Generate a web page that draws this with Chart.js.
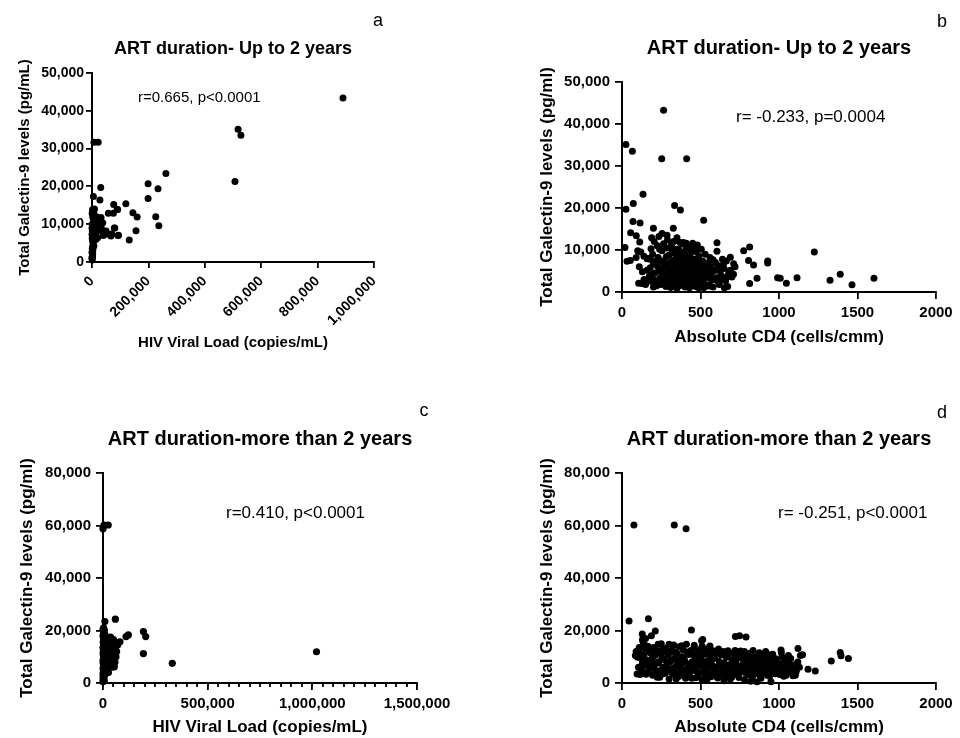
<!DOCTYPE html>
<html>
<head>
<meta charset="utf-8">
<script src="https://cdn.jsdelivr.net/npm/chart.js@4.4.1/dist/chart.umd.min.js"></script>
<style>
  body { margin: 0; background: #fff; width: 960px; height: 738px; position: relative; overflow: hidden; }
  canvas { position: absolute; }
</style>
</head>
<body>
<canvas id="panelA" width="480" height="369" style="left:0;top:0"></canvas>
<canvas id="panelB" width="480" height="369" style="left:480px;top:0"></canvas>
<canvas id="panelC" width="480" height="369" style="left:0;top:369px"></canvas>
<canvas id="panelD" width="480" height="369" style="left:480px;top:369px"></canvas>
<script>
// values: [x, galectin-9 pg/mL]
const aViralLoad = [
  [890000,43400],[518000,35100],[528000,33500],[507000,21300],[262000,23400],[199000,20700],[199000,16800],
  [234000,19400],[226000,12000],[237000,9600],[120000,15400],[145000,13000],[160000,11900],[156000,8300],
  [132000,5800],[92000,7000],[89000,13900],[77000,15200],[76000,12900],[58000,12900],[31000,19700],
  [28000,16400],[5000,17300],[7000,31700],[22000,31700],[81000,9000],[70000,7400],[55000,7400],[40000,7000],
  [38000,10400],[28000,11200],[33000,9000],[14000,6000],[9000,14000],[3000,13400],[32000,11800],[37000,8200],
  [26000,9500],[14000,10900],[12000,9000],[20000,6400],[5000,5500],[3000,3800],[500,2500],[0,1200],[0,7300],
  [0,9000],[9000,11300],[50000,8200],[67000,6900],[79000,9000],[94000,7100],[91000,13900],
  [1000,500],[2000,1500],[500,2500],[3000,3200],[1500,4000],[4000,4800],[2500,5500],[800,6200],[5000,6800],
  [3500,7500],[1200,8200],[6000,8800],[2000,9500],[9000,9800],[4500,10400],[12000,10200],[7000,11000],
  [15000,11300],[3000,11800],[10000,12200],[500,12800],[6000,13300],[2000,13900],[8000,7200],[11000,8600],
  [18000,9300],[20000,10800],[16000,12000],[25000,9800],[22000,11500],[1000,3500],[300,1000],[2500,2200],
  [6500,4200],[9500,5900],[13000,7800],[17000,8100],[4000,9000],[700,10000],[3500,12300]
];
const bCD4 = [
  [265,43300],[25,35100],[66,33500],[253,31700],[412,31700],[134,23300],[72,21100],[25,19700],[335,20600],
  [372,19500],[520,17100],[70,16800],[115,16400],[200,15200],[327,15200],[55,14100],[91,13400],[255,13900],
  [287,13500],[350,12900],[189,12900],[113,11900],[605,11700],[391,11800],[19,10600],[813,10700],[775,9800],
  [1225,9500],[928,7400],[928,6900],[806,7500],[838,6400],[991,3400],[1008,3300],[1047,2100],[1115,3400],
  [1325,2800],[1390,4200],[1465,1700],[1605,3300],[813,2000],[860,3300],[665,7400],[690,8300],[711,6700],
  [673,1300],[652,1000],[488,1000],[32,7300],[53,7500],[106,2100],[127,2000],
  [160,5200],[175,3800],[190,2500],[200,6800],[210,4500],[220,1500],[230,8200],[240,3200],[250,5800],
  [255,9800],[260,2200],[270,7000],[275,4200],[280,1300],[285,10500],[290,6100],[295,3000],[300,8800],
  [305,5000],[310,1800],[315,11200],[320,7400],[325,3900],[330,2600],[335,9300],[340,5500],[345,1200],
  [350,6800],[355,4300],[360,10200],[365,2900],[370,8000],[375,5200],[380,1600],[385,11500],[390,6300],
  [395,3500],[400,9100],[405,7200],[410,4800],[415,2200],[420,10800],[425,5900],[430,3300],[435,8400],
  [440,1500],[445,6600],[450,11000],[455,4000],[460,7800],[465,2600],[470,9600],[475,5300],[480,3100],
  [490,8600],[495,6100],[500,1900],[505,10200],[510,4400],[515,7300],[520,2800],[530,9000],[535,5400],
  [540,3700],[550,6900],[555,1700],[560,8200],[570,4600],[575,2900],[580,7700],[590,5100],[600,3400],
  [605,9700],[610,6300],[620,1800],[630,4000],[640,7800],[650,5600],[660,2700],[680,4500],[700,3600],
  [720,6000],[250,3600],[270,1800],[300,4600],[320,2000],[340,6300],[360,3700],[380,7600],[400,2500],
  [420,6500],[440,4200],[460,2000],[480,6800],[500,4700],[520,5900],[540,1400],[560,3300],[580,1200],
  [240,10200],[265,11500],[290,12400],[330,12000],[370,11800],[410,11600],[450,11600],[480,11200],
  [170,8000],[185,10300],[205,12000],[215,7300],[150,1800],[170,2800],[195,9000],[225,11000],[235,13200],
  [180,7800],[160,7900],[140,8500],[120,9500],[100,9800],[90,8200],[110,6000],[130,4800],[140,3000],
  [200,1200],[310,1100],[350,900],[430,1000],[470,1300],[520,1000],[560,1400],[610,2600],[640,3000],
  [690,5200],[710,4200],[670,3700],
  [160,3000],[180,5800],[195,4200],[210,2800],[225,6200],[235,5000],[245,1800],[255,7400],[262,4600],
  [268,3000],[278,6000],[282,8400],[292,1600],[298,5600],[302,3800],[308,7000],[312,2600],[318,5400],
  [322,9800],[328,1500],[332,4400],[338,7800],[342,3000],[348,10200],[352,5800],[358,1400],[362,8600],
  [368,4600],[372,6200],[378,2400],[382,9400],[388,3800],[392,7600],[398,5200],[402,1200],[408,10400],
  [412,3000],[418,8000],[422,4200],[428,6800],[432,2000],[438,9800],[442,5600],[448,3200],[452,7400],
  [458,1800],[462,10000],[468,4800],[472,6400],[478,2400],[485,8000],[492,3600],[498,5000],[510,6600],
  [525,3800],[545,5200],[565,6000],[585,3000],[595,7000],[625,5000],[645,6500]
];
const cViralLoad = [
  [0,58800],[5000,60200],[25000,60200],[1020000,11900],[331000,7500],[193000,19600],[204000,17700],
  [193000,11200],[121000,18300],[110000,17700],[59000,24300],[9000,23400],[81000,15700],[57000,13800],
  [41000,16100],[54000,6200],[57000,7900],[5000,20200],[40000,16400],[46000,6400],[54000,8800],
  [0,500],[500,1500],[1000,2500],[0,3500],[2000,4500],[500,5500],[3000,6500],[1000,7500],[0,8500],
  [4000,9500],[1500,10500],[500,11500],[2500,12500],[0,13500],[5000,14500],[1000,15500],[3000,16500],
  [0,18000],[2000,19500],[500,20500],[8000,3000],[10000,5000],[12000,7000],[15000,9000],[18000,11000],
  [20000,13000],[9000,15000],[14000,17000],[22000,16000],[25000,12000],[28000,10000],[30000,8000],
  [32000,14000],[35000,12500],[38000,10500],[40000,15000],[45000,13000],[48000,11000],[50000,16500],
  [6000,1000],[7000,6000],[16000,4000],[24000,6000],[26000,4000],[34000,7500],[42000,9000],[55000,14500],
  [60000,13500],[65000,12000],[70000,14500],[75000,15500],[4000,12000],[11000,12500],[17000,14000],
  [13000,10500],[19000,8500],[21000,7000],[27000,14500],[31000,16500],[36000,17500],[3000,21000],
  [6000,20000],[9000,18500],[44000,6000],[47000,7000],[52000,9500],[58000,11000],[62000,10000]
];
const dCD4 = [
  [76,60200],[333,60200],[408,58800],[45,23600],[168,24500],[442,20200],[212,19800],[129,18700],[187,18000],
  [514,16600],[507,16100],[722,17700],[749,18000],[1185,5200],[1231,4600],[1333,8400],[1390,11600],
  [1395,10400],[1442,9300],[1121,13100],[1136,10500],[1089,2800],[1104,3000],[1013,12600],[949,500],
  [860,500],[96,3400],[153,3300],
  [90,12000],[100,9800],[110,13500],[120,11000],[130,7500],[135,15500],[140,10200],[150,12800],[160,8600],
  [165,14000],[170,5500],[180,11500],[190,9200],[195,3000],[200,13500],[210,7000],[215,10800],[220,4500],
  [230,12200],[235,8100],[240,2200],[250,15000],[255,9500],[260,6000],[270,11800],[275,3800],[280,13200],
  [290,7800],[295,10500],[300,1500],[305,5200],[310,12000],[320,8800],[325,14200],[330,3200],[340,9800],
  [345,6500],[350,11300],[360,2500],[365,13800],[370,7200],[380,10000],[385,4300],[390,12600],[400,8400],
  [405,1800],[410,14800],[420,6000],[425,10900],[430,3500],[440,12400],[445,8000],[450,5000],[460,13500],
  [465,9300],[470,2000],[480,11500],[485,6800],[490,4000],[500,12800],[505,9000],[510,1200],[520,7500],
  [525,11000],[530,3000],[540,13000],[545,8500],[550,5800],[560,10600],[565,2400],[570,7000],[580,12300],
  [585,4500],[590,9400],[600,6200],[605,11600],[610,1900],[620,8200],[625,3800],[630,10800],[640,5400],
  [645,12000],[650,7600],[660,2800],[665,9800],[670,4600],[680,11200],[685,7000],[690,1500],[700,9000],
  [705,5600],[710,11500],[720,3400],[725,8000],[730,10200],[740,6400],[745,2100],[750,9600],[760,4800],
  [765,11000],[770,7200],[780,1300],[785,8800],[790,5600],[800,10500],[805,3200],[810,7500],[820,9200],
  [825,5000],[830,2300],[840,8200],[845,6000],[850,10000],[860,3600],[865,7400],[870,9000],[880,5000],
  [885,1800],[890,8300],[900,6400],[905,10600],[910,3800],[920,7200],[925,9600],[930,4800],[940,2600],
  [950,8000],[955,5800],[960,11000],[970,6600],[975,3500],[980,9200],[990,4200],[1000,7400],[1010,5600],
  [1020,9800],[1030,2600],[1040,6800],[1050,4500],[1060,10500],[1070,6200],[1080,3800],[1100,7000],
  [1150,10800],[1120,8000],
  [215,12500],[245,11200],[265,9000],[285,5500],[315,4000],[335,11800],[355,8600],[375,5600],[395,9600],
  [415,11800],[435,7200],[455,10800],[475,7800],[495,10400],[515,13200],[535,6200],[555,12500],[575,9000],
  [595,11400],[615,13000],[635,6800],[655,10500],[675,12300],[695,6300],[715,7900],[735,11800],[755,12200],
  [775,10400],[795,9300],[815,11300],[835,12400],[855,8500],[875,11500],[895,9800],[915,12000],[935,10800],
  [955,9200],[975,7800],[995,6000],[1015,11500],[1035,8800],[1055,7800],[1075,9300],[200,10000],[230,14800],
  [260,13000],[170,12200],[145,14500],[125,9200],[105,12500],[85,10500],[115,3200],[185,6800],[225,2200],
  [345,1500],[395,2800],[445,1800],[540,1000],[600,2500],[650,900],[700,2300],[820,700],[880,2800],
  [130,16500],[150,17000],[330,14500],[380,14200],[460,14400],[510,14000],[560,14100],[300,14800],
  [720,12400],[780,12000],[790,17500],
  [105,6000],[125,5000],[145,7000],[165,4000],[185,9000],[205,5200],[225,7600],[245,4800],[265,3500],
  [285,7200],[305,8000],[325,5600],[345,4000],[365,6800],[385,7600],[405,5000],[425,3000],[445,6200],
  [465,4800],[485,2800],[505,6400],[525,5000],[545,3800],[565,7000],[585,6000],[605,4000],[625,7000],
  [645,3000],[665,6000],[685,4200],[705,7400],[725,5000],[745,3800],[765,6400],[785,4000],[805,6000],
  [825,7000],[845,3500],[865,5400],[885,7000],[905,4600],[925,3000],[945,5200],[965,4000],[985,6400],
  [1005,3200],[1025,5000],[1045,3000],[1065,7200],[1085,5400],[1110,4500],[1130,6000]
];

const viralTicks = [0, 200000, 400000, 600000, 800000, 1000000];
const cMinorTicks = [];
for (let v = 0; v <= 1500000; v += 50000) cMinorTicks.push(v);

const FONT = '"Liberation Sans", Arial, Helvetica, sans-serif';
Chart.defaults.font.family = FONT;
Chart.defaults.color = '#000';

const panelText = {
  id: 'panelText',
  afterDraw(chart, args, o) {
    const ctx = chart.ctx, ca = chart.chartArea;
    ctx.save();
    ctx.fillStyle = '#000';
    ctx.textBaseline = 'middle';
    ctx.textAlign = 'center';
    ctx.font = 'bold ' + o.titleSize + 'px ' + FONT;
    ctx.fillText(o.title, (ca.left + ca.right) / 2, o.titleY);
    ctx.textAlign = 'left';
    ctx.font = o.noteSize + 'px ' + FONT;
    ctx.fillText(o.note, o.noteX, o.noteY);
    ctx.textAlign = 'center';
    ctx.font = '18px ' + FONT;
    ctx.fillText(o.letter, o.letterX, o.letterY);
    if (o.minor) {
      const s = chart.scales.x;
      ctx.strokeStyle = '#000';
      ctx.lineWidth = 1.8;
      o.minor.forEach(v => {
        const px = Math.round(s.getPixelForValue(v));
        ctx.beginPath();
        ctx.moveTo(px, ca.bottom);
        ctx.lineTo(px, ca.bottom + 4);
        ctx.stroke();
      });
    }
    ctx.restore();
  }
};

const commas = v => Number(v).toLocaleString('en-US');

function makePanel(id, points, p) {
  const tickGrid = { drawOnChartArea: false, drawTicks: true, tickLength: p.tickLen, color: '#000', lineWidth: 1.8 };
  new Chart(document.getElementById(id), {
    type: 'scatter',
    data: {
      datasets: [{
        data: points.map(d => ({ x: d[0], y: d[1] })),
        backgroundColor: '#000',
        borderWidth: 0,
        pointRadius: p.r,
        pointHoverRadius: p.r,
        clip: false
      }]
    },
    options: {
      responsive: false,
      animation: false,
      devicePixelRatio: 1,
      layout: { padding: { left: 0, top: p.top, right: 480 - p.right, bottom: p.padBottom } },
      plugins: {
        legend: { display: false },
        tooltip: { enabled: false },
        panelText: p.text
      },
      scales: {
        x: {
          type: 'linear', min: 0, max: p.xMax,
          afterFit: s => { s.height = p.xHeight; },
          afterBuildTicks: p.xTicks ? (s => { s.ticks = p.xTicks.map(v => ({ value: v })); }) : undefined,
          border: { color: '#000', width: 2 },
          grid: tickGrid,
          ticks: {
            stepSize: p.xStep, padding: p.xPad, minRotation: p.rot, maxRotation: p.rot,
            font: { size: p.tickSize, weight: 'bold' }, color: '#000',
            callback: p.xFmt
          },
          title: { display: true, text: p.xTitle, color: '#000', font: { size: p.axisSize, weight: 'bold' }, padding: 0 }
        },
        y: {
          min: 0, max: p.yMax,
          afterFit: s => { s.width = p.yWidth; },
          border: { color: '#000', width: 2 },
          grid: tickGrid,
          ticks: { stepSize: p.yStep, padding: p.yPad, font: { size: p.tickSize, weight: 'bold' }, color: '#000', callback: commas },
          title: { display: true, text: p.yTitle, color: '#000', font: { size: p.axisSize, weight: 'bold' }, padding: { top: p.yTitlePad, bottom: 0 } }
        }
      }
    },
    plugins: [panelText]
  });
}

makePanel('panelA', aViralLoad, {
  top: 73, right: 374, padBottom: 17, yWidth: 92, xHeight: 90, tickLen: 6, xPad: 5, yPad: 2,
  xMax: 1000000, xStep: 200000, xTicks: viralTicks, rot: 45, xFmt: commas, yMax: 50000, yStep: 10000,
  tickSize: 14, axisSize: 15, yTitlePad: 16, r: 3.5,
  xTitle: 'HIV Viral Load (copies/mL)', yTitle: 'Total Galectin-9 levels (pg/mL)',
  text: { title: 'ART duration- Up to 2 years', titleSize: 18, titleY: 49,
          note: 'r=0.665, p<0.0001', noteSize: 15, noteX: 138, noteY: 98,
          letter: 'a', letterX: 378, letterY: 21 }
});

makePanel('panelB', bCD4, {
  top: 82, right: 456, padBottom: 21, yWidth: 142, xHeight: 56, tickLen: 7, xPad: 5, yPad: 5,
  xMax: 2000, xStep: 500, rot: 0, xFmt: v => String(v), yMax: 50000, yStep: 10000,
  tickSize: 15, axisSize: 17, yTitlePad: 57, r: 3.5,
  xTitle: 'Absolute CD4 (cells/cmm)', yTitle: 'Total Galectin-9 levels (pg/ml)',
  text: { title: 'ART duration- Up to 2 years', titleSize: 20, titleY: 48,
          note: 'r= -0.233, p=0.0004', noteSize: 17, noteX: 256, noteY: 117,
          letter: 'b', letterX: 462, letterY: 22 }
});

makePanel('panelC', cViralLoad, {
  top: 104, right: 417, padBottom: 0, yWidth: 103, xHeight: 55, tickLen: 7, xPad: 5, yPad: 5,
  xMax: 1500000, xStep: 500000, rot: 0, xFmt: commas, yMax: 80000, yStep: 20000,
  tickSize: 15, axisSize: 17, yTitlePad: 17, r: 3.6,
  xTitle: 'HIV Viral Load (copies/mL)', yTitle: 'Total Galectin-9 levels (pg/ml)',
  text: { title: 'ART duration-more than 2 years', titleSize: 20, titleY: 70,
          note: 'r=0.410, p<0.0001', noteSize: 17, noteX: 226, noteY: 144,
          letter: 'c', letterX: 424, letterY: 42, minor: cMinorTicks }
});

makePanel('panelD', dCD4, {
  top: 104, right: 456, padBottom: 0, yWidth: 142, xHeight: 55, tickLen: 7, xPad: 5, yPad: 5,
  xMax: 2000, xStep: 500, rot: 0, xFmt: v => String(v), yMax: 80000, yStep: 20000,
  tickSize: 15, axisSize: 17, yTitlePad: 57, r: 3.5,
  xTitle: 'Absolute CD4 (cells/cmm)', yTitle: 'Total Galectin-9 levels (pg/ml)',
  text: { title: 'ART duration-more than 2 years', titleSize: 20, titleY: 70,
          note: 'r= -0.251, p<0.0001', noteSize: 17, noteX: 298, noteY: 144,
          letter: 'd', letterX: 462, letterY: 44 }
});
</script>
</body>
</html>
